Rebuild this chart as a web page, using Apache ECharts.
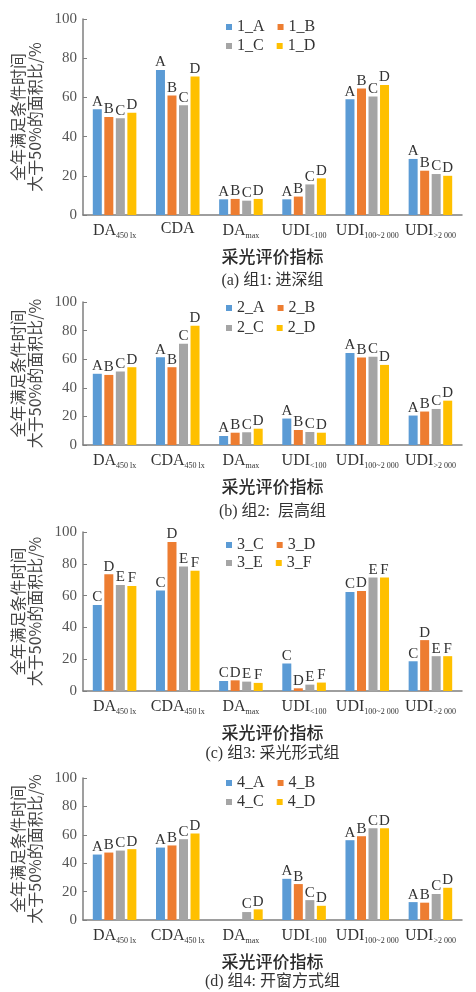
<!DOCTYPE html>
<html><head><meta charset="utf-8">
<script src="https://cdn.jsdelivr.net/npm/echarts@6/dist/echarts.min.js"></script>
<style>html,body{margin:0;padding:0;background:#fff}#c{width:476px;height:992px}</style>
</head><body><div id="c"></div><script>
// ---- data ----
const categories1 = ['DA_450 lx','CDA','DA_max','UDI_<100','UDI_100~2 000','UDI_>2 000'];
const categories234 = ['DA_450 lx','CDA_450 lx','DA_max','UDI_<100','UDI_100~2 000','UDI_>2 000'];
const yTicks = [0,20,40,60,80,100];

const seriesNames1 = ['1_A','1_B','1_C','1_D'];
const g1A = [54, 74, 8, 8, 59, 28.6];
const g1B = [50, 61, 8.2, 9.4, 64.5, 22.6];
const g1C = [49.3, 56, 7.3, 15.6, 60.5, 20.9];
const g1D = [52.2, 70.6, 8.2, 18.7, 66.3, 20];

const seriesNames2 = ['2_A','2_B','2_C','2_D'];
const g2A = [49.8, 61.4, 6.3, 18.5, 64.3, 20.6];
const g2B = [49, 54.4, 8.6, 10.5, 61.2, 23.4];
const g2C = [51.4, 70.8, 8.9, 9.1, 61.7, 25.2];
const g2D = [54.4, 83.4, 11.4, 8.6, 56, 31];

const seriesNames3 = ['3_C','3_D','3_E','3_F'];
const g3C = [54.1, 63.2, 6.3, 17.3, 62.3, 18.7];
const g3D = [73.5, 93.7, 6.7, 1.7, 62.9, 32];
const g3E = [66.7, 78.3, 5.9, 4, 71.4, 21.9];
const g3F = [66.1, 75.6, 5.1, 5.3, 71.4, 21.9];

const seriesNames4 = ['4_A','4_B','4_C','4_D'];
const g4A = [46.1, 51, null, 29, 56.2, 12.6];
const g4B = [47.5, 52.5, null, 25.3, 59, 12.2];
const g4C = [48.9, 56.9, 5.6, 14, 64.6, 18.3];
const g4D = [49.9, 60.9, 7.5, 10, 64.6, 22.7];

const yName = '全年满足条件时间\n大于50%的面积比/%';
const xName = '采光评价指标';
const subtitles = ['(a) 组1: 进深组','(b) 组2:  层高组','(c) 组3: 采光形式组','(d) 组4: 开窗方式组'];

// ---- layout / style ----
const colors = ['#5B9BD5','#ED7D31','#A5A5A5','#FFC000'];
const SERIF = "'Liberation Serif','Noto Sans CJK SC'";
const CJK = "'Noto Sans CJK SC'";
const panels = [
  {cats: categories1, names: seriesNames1, data: [g1A,g1B,g1C,g1D], top: 19, height: 196, leg: [19, 38], sub: 282},
  {cats: categories234, names: seriesNames2, data: [g2A,g2B,g2C,g2D], top: 302, height: 143, leg: [300, 320], sub: 513},
  {cats: categories234, names: seriesNames3, data: [g3C,g3D,g3E,g3F], top: 532, height: 159, leg: [537, 555], sub: 755},
  {cats: categories234, names: seriesNames4, data: [g4A,g4B,g4C,g4D], top: 778, height: 142, leg: [775, 794], sub: 983}
];

const grid = [], xAxis = [], yAxis = [], series = [], legend = [], graphic = [];
panels.forEach((p, i) => {
  grid.push({left: 83, top: p.top, width: 379, height: p.height});
  xAxis.push({
    type: 'category', gridIndex: i, data: p.cats,
    axisLine: {lineStyle: {color: '#7f7f7f', width: 1.5}},
    axisTick: {show: false},
    axisLabel: {
      margin: 6, interval: 0,
      formatter: v => { const parts = v.split('_'); return parts.length > 1 ? '{m|' + parts[0] + '}{s|' + parts[1] + '}' : '{m|' + v + '}'; },
      rich: {
        m: {fontFamily: SERIF, fontSize: 16, color: '#333'},
        s: {fontFamily: SERIF, fontSize: 8, color: '#333', padding: [11, 0, 0, 0]}
      }
    },
    name: xName, nameLocation: 'middle', nameGap: 33,
    nameTextStyle: {fontFamily: CJK, fontSize: 17, fontWeight: 500, color: '#2a2a2a'}
  });
  yAxis.push({
    type: 'value', gridIndex: i, min: 0, max: 100, interval: 20,
    axisLine: {show: true, lineStyle: {color: '#7f7f7f', width: 1.5}},
    axisTick: {show: true, inside: true, length: 4, lineStyle: {color: '#7f7f7f'}},
    splitLine: {show: false},
    axisLabel: {margin: 6, fontFamily: SERIF, fontSize: 15, color: '#555',
      formatter: v => yTicks.includes(v) ? String(v) : ''},
    name: yName, nameLocation: 'middle', nameGap: 38, nameRotate: 90,
    nameTextStyle: {fontFamily: CJK, fontSize: 16, lineHeight: 17, color: '#444'}
  });
  p.names.forEach((n, k) => {
    series.push({
      type: 'bar', name: n, xAxisIndex: i, yAxisIndex: i, data: p.data[k],
      barWidth: 9, barGap: '28%',
      itemStyle: {color: colors[k]},
      label: {show: true, position: 'top', distance: 0, fontFamily: SERIF, fontSize: 15, color: '#333',
        formatter: () => n.split('_')[1]}
    });
  });
  [[p.names[0], p.names[1]], [p.names[2], p.names[3]]].forEach((d, r) => {
    legend.push({
      data: d, left: 226, top: p.leg[r], padding: 0, itemGap: 13,
      icon: 'rect', itemWidth: 6, itemHeight: 6,
      textStyle: {fontFamily: SERIF, fontSize: 16, color: '#333'}
    });
  });
  graphic.push({type: 'text', x: 272.5, top: p.sub - 9,
    style: {text: subtitles[i], font: "16px 'Liberation Serif','Noto Sans CJK SC'", fill: '#333', textAlign: 'center'}});
});

const chart = echarts.init(document.getElementById('c'));
chart.setOption({animation: false, color: colors, grid, xAxis, yAxis, series, legend, graphic});
</script></body></html>
